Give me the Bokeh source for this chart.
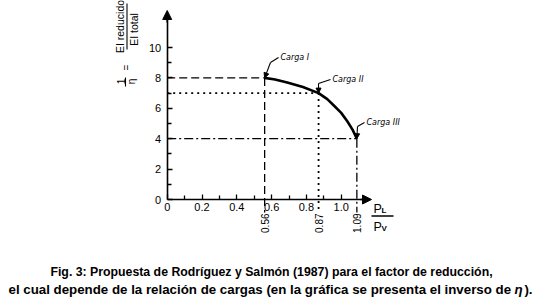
import math
from bokeh.plotting import figure
from bokeh.models import (LinearAxis, FixedTicker, Range1d, Arrow, NormalHead)
from bokeh.core.properties import value
from bokeh.embed import file_html
from bokeh.resources import INLINE

# ---------------- data ----------------
load_ratio = [0.56, 0.87, 1.09]          # P_L / P_V
inv_eta = [8.0, 7.0, 4.0]                # 1/eta
load_names = ["Carga I", "Carga II", "Carga III"]
load_ratio_labels = ["0.56", "0.87", "1.09"]

curve_x = [0.56, 0.62, 0.69, 0.78, 0.87, 0.92, 0.965, 1.0, 1.035, 1.065, 1.09]
curve_y = [8.0, 7.9, 7.7, 7.4, 7.0, 6.6, 6.1, 5.7, 5.15, 4.6, 4.0]

x_ticks = [0.0, 0.2, 0.4, 0.6, 0.8, 1.0]
x_tick_labels = ["0", "0.2", "0.4", "0.6", "0.8", "1.0"]
x_minor = [0.1, 0.3, 0.5, 0.7, 0.9]
y_ticks = [0, 2, 4, 6, 8, 10]
y_tick_labels = ["0", "2", "4", "6", "8", "10"]
y_minor = [1, 3, 5, 7, 9]

caption_1 = "Fig. 3: Propuesta de Rodríguez y Salmón (1987) para el factor de reducción,"
caption_2a = "el cual depende de la relación de cargas (en la gráfica se presenta el inverso de "
caption_2b = "η"
caption_2c = ")."

# ---------------- layout helpers ----------------
W, H = 542, 305
X0, Y0 = 166.7, 199.0      # pixel position of the origin
KX, KY = 174.0, 15.2       # pixels per unit


def dx(px):
    return (px - X0) / KX


def dy(py):
    return (Y0 - py) / KY


p = figure(width=W, height=H, output_backend="svg", toolbar_location=None,
           x_range=Range1d(dx(0), dx(W)), y_range=Range1d(dy(H), dy(0)),
           x_axis_location=None, y_axis_location=None,
           min_border=0, background_fill_color="white",
           border_fill_color="white")
p.outline_line_color = None
p.grid.visible = False

sans = value("Liberation Sans")

xaxis = LinearAxis(fixed_location=0, bounds=(0, dx(366)))
xaxis.ticker = FixedTicker(ticks=x_ticks, minor_ticks=x_minor)
xaxis.major_label_overrides = {t: l for t, l in zip(x_ticks, x_tick_labels)}
yaxis = LinearAxis(fixed_location=0, bounds=(0, dy(16)))
yaxis.ticker = FixedTicker(ticks=y_ticks, minor_ticks=y_minor)
yaxis.major_label_overrides = {t: l for t, l in zip(y_ticks, y_tick_labels)}
for ax in (xaxis, yaxis):
    ax.axis_line_width = 1.6
    ax.axis_line_color = "black"
    ax.major_tick_in = 5
    ax.major_tick_out = 0
    ax.minor_tick_in = 4
    ax.minor_tick_out = 0
    ax.major_tick_line_width = 1.3
    ax.minor_tick_line_width = 1.3
    ax.major_tick_line_color = "black"
    ax.minor_tick_line_color = "black"
    ax.major_label_text_font = "Liberation Sans"
    ax.major_label_text_font_size = "11px"
    ax.major_label_text_color = "black"
xaxis.major_label_standoff = 3
yaxis.major_label_standoff = 6
p.add_layout(xaxis, "below")
p.add_layout(yaxis, "left")

# axis arrow heads
p.add_layout(Arrow(end=NormalHead(size=9, fill_color="black", line_color="black"),
                   line_color="black", line_width=1.6,
                   x_start=dx(360), y_start=0, x_end=dx(371), y_end=0))
p.add_layout(Arrow(end=NormalHead(size=9, fill_color="black", line_color="black"),
                   line_color="black", line_width=1.6,
                   x_start=0, y_start=dy(22), x_end=0, y_end=dy(10)))

# reference lines
dashes = ["8 4", "2 4", "9 3 2 3"]
widths = [1.3, 1.8, 1.3]
below = dy(212)
for xv, yv, dsh, lw in zip(load_ratio, inv_eta, dashes, widths):
    p.line([0, xv], [yv, yv], line_color="black", line_dash=dsh, line_width=lw)
    p.line([xv, xv], [yv, below], line_color="black", line_dash=dsh, line_width=lw)

# main curve
p.line(curve_x, curve_y, line_color="black", line_width=2.6)

# vertical value labels below axis
p.text(x=load_ratio, y=[dy(213)] * 3, text=load_ratio_labels, angle=math.pi / 2,
       text_align="right", text_baseline="middle", text_font=sans,
       text_font_size="10px", text_color="black")

# "Carga" leaders and labels
leader_bend = [(dx(270), dy(62)), (dx(318), dy(83)), (dx(357), dy(126))]
leader_end = [(dx(278), dy(57)), (dx(330), dy(79)), (dx(364), dy(122))]
for (bx, by), (ex, ey), xv, yv in zip(leader_bend, leader_end, load_ratio, inv_eta):
    p.line([ex, bx], [ey, by], line_color="black", line_width=1.1)
    p.add_layout(Arrow(end=NormalHead(size=5, fill_color="black", line_color="black"),
                       line_color="black", line_width=1.1,
                       x_start=bx, y_start=by, x_end=xv, y_end=yv))
p.text(x=[e[0] + dx(2) - dx(0) for e in leader_end], y=[e[1] for e in leader_end],
       text=load_names, text_align="left", text_baseline="middle",
       text_font=value("DejaVu Sans"), text_font_size="8px", text_color="black",
       text_font_style="italic")

# y-axis title: 1/eta = EI reducido / EI total  (rotated)
rot = math.pi / 2
p.text(x=[dx(119.5)], y=[dy(26)], text=["EI reducido"], angle=rot, text_align="center",
       text_baseline="middle", text_font=sans, text_font_size="10.5px", text_color="black")
p.text(x=[dx(133.5)], y=[dy(29)], text=["EI total"], angle=rot, text_align="center",
       text_baseline="middle", text_font=sans, text_font_size="10.5px", text_color="black")
p.line([dx(126.5), dx(126.5)], [dy(3), dy(49)], line_color="black", line_width=1.1)
p.text(x=[dx(126)], y=[dy(67)], text=["="], angle=rot, text_align="center",
       text_baseline="middle", text_font=sans, text_font_size="10px", text_color="black")
p.text(x=[dx(120)], y=[dy(81)], text=["1"], angle=rot, text_align="center",
       text_baseline="middle", text_font=sans, text_font_size="10px", text_color="black")
p.text(x=[dx(130.5)], y=[dy(81)], text=["η"], angle=rot, text_align="center",
       text_baseline="middle", text_font=sans, text_font_size="10px", text_color="black")
p.line([dx(125), dx(125)], [dy(77), dy(86)], line_color="black", line_width=1.1)

# x-axis title: P_L / P_V
p.text(x=[dx(373), dx(373)], y=[dy(208), dy(226)], text=["P", "P"], text_align="left",
       text_baseline="middle", text_font=sans, text_font_size="12.5px", text_color="black")
p.text(x=[dx(381), dx(381)], y=[dy(210), dy(228)], text=["L", "V"], text_align="left",
       text_baseline="middle", text_font=sans, text_font_size="8px", text_color="black",
       text_font_style="bold")
p.line([dx(371), dx(393)], [dy(215.5), dy(215.5)], line_color="black", line_width=1.3)

# caption
p.text(x=[dx(271)], y=[dy(271)], text=[caption_1], text_align="center",
       text_baseline="middle", text_font=sans, text_font_size="12.3px",
       text_font_style="bold", text_color="black")
p.text(x=[dx(8)], y=[dy(289)], text=[caption_2a], text_align="left",
       text_baseline="middle", text_font=sans, text_font_size="13.3px",
       text_font_style="bold", text_color="black")
p.text(x=[dx(514)], y=[dy(289)], text=[caption_2b], text_align="left",
       text_baseline="middle", text_font=sans, text_font_size="13.3px",
       text_font_style="bold italic", text_color="black")
p.text(x=[dx(532)], y=[dy(289)], text=[caption_2c], text_align="right",
       text_baseline="middle", text_font=sans, text_font_size="13.3px",
       text_font_style="bold", text_color="black")

open("out.html", "w").write(file_html(p, INLINE))
